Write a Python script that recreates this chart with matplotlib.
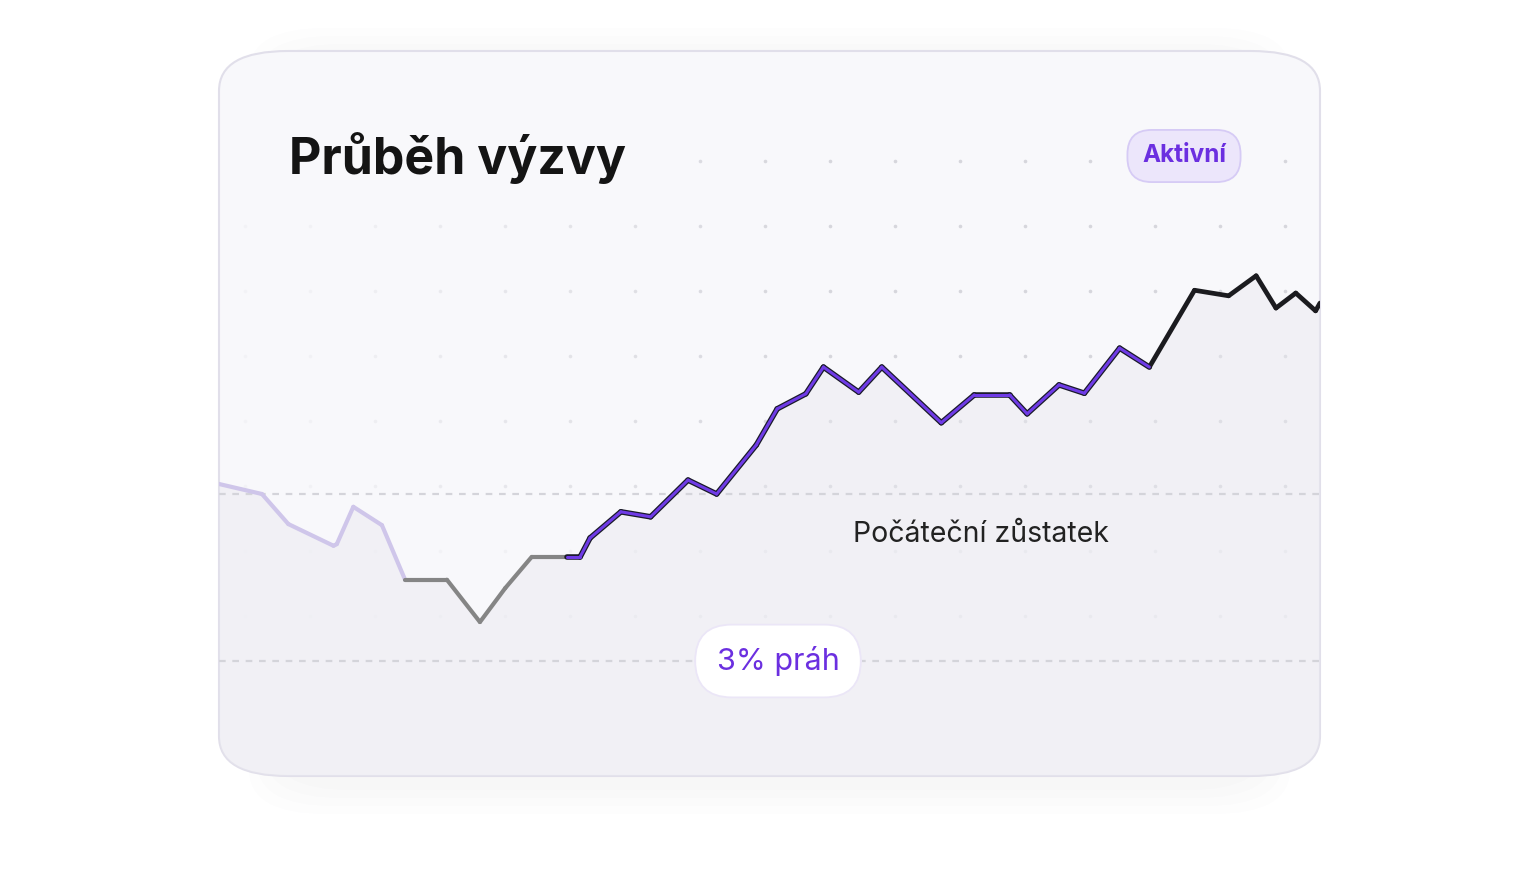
import matplotlib
matplotlib.use("Agg")
import matplotlib.pyplot as plt
from matplotlib.patches import FancyBboxPatch
import numpy as np

days = [0, 3.9, 6.3, 10.4, 10.7, 12.2, 14.8, 16.9, 20.7, 23.7, 26.0, 28.4, 31.6, 32.8,
        33.7, 36.5, 39.2, 42.6, 45.2, 48.8, 50.7, 53.3, 54.9, 58.1, 60.2, 65.6, 68.6,
        71.8, 73.4, 76.3, 78.6, 81.8, 84.5, 88.6, 91.7, 94.2, 96.0, 97.8, 99.6, 100.0]
balance = [100.18, 100.00, 99.46, 99.07, 99.10, 99.77, 99.44, 98.46, 98.46, 97.70, 98.31,
           98.87, 98.87, 98.87, 99.21, 99.68, 99.59, 100.25, 100.00, 100.88, 101.53, 101.80,
           102.28, 101.83, 102.28, 101.28, 101.78, 101.78, 101.44, 101.96, 101.81, 102.62,
           102.28, 103.66, 103.56, 103.92, 103.34, 103.61, 103.29, 103.43]
start_level = 100.0
threshold_level = 97.0
title = "Průběh výzvy"
status = "Aktivní"
start_label = "Počáteční zůstatek"
threshold_label = "3% práh"

W, H = 1536, 886
fig = plt.figure(figsize=(W/100, H/100), dpi=100)
fig.patch.set_facecolor("white")

def fx(px): return px / W
def fy(py): return 1 - py / H

for i in range(4):
    g = 6 + i * 8
    fig.patches.append(FancyBboxPatch((fx(219 - g + 60), fy(776 + g + 8)), fx(1101 + 2*g - 120), (726 + 2*g) / H,
                        boxstyle="round,pad=0,rounding_size=0.05", transform=fig.transFigure,
                        facecolor="#6a5a9a", alpha=0.012, edgecolor="none", zorder=0))
card = FancyBboxPatch((fx(219), fy(776)), fx(1101), 725 / H,
                      boxstyle="round,pad=0,rounding_size=0.045", transform=fig.transFigure,
                      facecolor="#f8f8fb", edgecolor="#e1dfea", linewidth=1.5, zorder=1)
fig.patches.append(card)

ax = fig.add_axes([fx(219), fy(776), fx(1101), 725 / H])
ax.set_zorder(3)
ax.set_facecolor("none")
ax.set_xlim(0, 100)
ylo = 100 - (776 - 494) / 55.67
yhi = 100 + (494 - 51) / 55.67
ax.set_ylim(ylo, yhi)
ax.axis("off")

def vx(px): return (px - 219) / 1101 * 100
def vy(py): return 100 + (494 - py) / 55.67

for gy in [161, 226, 291, 356, 421, 486, 551, 616]:
    for gx in range(245, 1300, 65):
        if gy == 161 and gx < 660: continue
        if gy == 161 and 1100 < gx < 1260: continue
        a = min(1, max(0.15, (gx - 200) / 600))
        if gy > 500: a *= 0.4
        ax.plot(vx(gx), vy(gy), "o", ms=2.6, color="#d6d6dc", alpha=a, mec="none", zorder=2)

fill = ax.fill_between(days, balance, ylo, color="#e9e8ef", alpha=0.45, lw=0, zorder=2)
fill.set_clip_path(card)

ax.axhline(start_level, color="#d4d4da", lw=1.6, ls=(0, (3, 3)), zorder=3)
ax.axhline(threshold_level, color="#d4d4da", lw=1.6, ls=(0, (3, 3)), zorder=3)

n = len(days)
for i in range(n - 1):
    xs, ys = days[i:i+2], balance[i:i+2]
    if i < 7:
        ax.plot(xs, ys, color="#cfc6ea", lw=3, solid_capstyle="round", zorder=5)
    elif i < 12:
        ax.plot(xs, ys, color="#858585", lw=3, solid_capstyle="round", zorder=5)
    elif i < 32:
        ax.plot(xs, ys, color="#1a1a2a", lw=4, solid_capstyle="round", zorder=5)
        ax.plot(xs, ys, color="#6f3be6", lw=2.2, solid_capstyle="round", zorder=6)
    else:
        ax.plot(xs, ys, color="#1b1b1f", lw=3.4, solid_capstyle="round", zorder=5)

fig.text(fx(289), fy(158), title, fontsize=36, fontweight="bold", color="#141414",
         va="center", ha="left", family="Inter", zorder=10)
fig.text(fx(853), fy(535), start_label, fontsize=20.5, color="#222222", va="center",
         ha="left", family="Inter", zorder=10)
fig.text(fx(1184), fy(156), status, fontsize=17.5, fontweight="bold", color="#6b2fe0",
         va="center", ha="center", family="Inter", zorder=10,
         bbox=dict(boxstyle="round,pad=0.6,rounding_size=1.0", fc="#ece6fb", ec="#d6cbf5", lw=1.3))
fig.text(fx(778), fy(661), threshold_label, fontsize=22, color="#6b2fe0",
         va="center", ha="center", family="Inter", zorder=10,
         bbox=dict(boxstyle="round,pad=0.7,rounding_size=1.2", fc="white", ec="#ebe6f7", lw=1.3))

fig.savefig("out.png", dpi=100)
